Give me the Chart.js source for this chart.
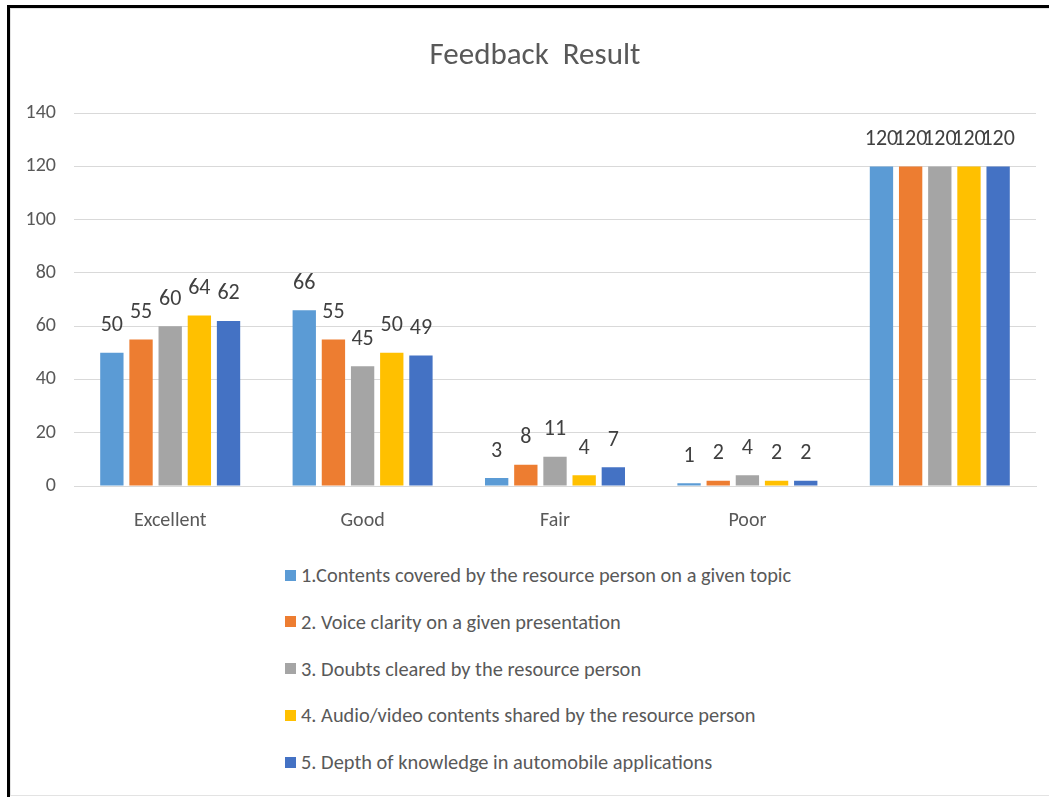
<!DOCTYPE html>
<html>
<head>
<meta charset="utf-8">
<script src="https://cdn.jsdelivr.net/npm/chart.js@4.4.1/dist/chart.umd.min.js"></script>
<style>
  html, body { margin: 0; padding: 0; background: #fff; }
  body { width: 1049px; height: 797px; position: relative; overflow: hidden; }
  /* black frame (left + top) like the screenshot */
  #frame { position: absolute; left: 7px; top: 5px; width: 1042px; height: 792px;
           border-left: 3px solid #000; border-top: 3px solid #000; box-sizing: border-box; }
  /* light grey chart box */
  #box { position: absolute; left: 10px; top: 8px; width: 1045px; height: 788px;
         border-left: 1px solid #e3e3e3; border-top: 1px solid #e3e3e3; border-bottom: 1px solid #e3e3e3;
         box-sizing: border-box; }
  #wrap { position: absolute; left: 10px; top: 8px; width: 1039px; height: 545px; }
  #legend { position: absolute; left: 285px; top: 560px; margin: 0; padding: 0; list-style: none;
            font-family: 'Liberation Sans Narrow', 'Arial Narrow', Carlito, 'Open Sans', sans-serif;
            font-size: 20.4px; color: #595959; }
  #legend li { display: flex; align-items: center; height: 30px; margin-bottom: 16.8px; }
  #legend .sw { width: 11px; height: 11px; margin-right: 5px; display: inline-block; }
</style>
</head>
<body>
<div id="box"></div>
<div id="frame"></div>
<div id="wrap"><canvas id="chartCanvas" width="1039" height="545"></canvas></div>
<ul id="legend"></ul>
<script>
// categorias y series
const categorias = ['Excellent', 'Good', 'Fair', 'Poor', ''];
const serieNombres = [
  '1.Contents covered by the resource person on a given topic',
  '2. Voice clarity on a given presentation',
  '3. Doubts cleared by the resource person',
  '4. Audio/video contents shared by the resource person',
  '5. Depth of knowledge in  automobile applications'
];
const serie1 = [50, 66, 3, 1, 120];
const serie2 = [55, 55, 8, 2, 120];
const serie3 = [60, 45, 11, 4, 120];
const serie4 = [64, 50, 4, 2, 120];
const serie5 = [62, 49, 7, 2, 120];
const yTicks = [0, 20, 40, 60, 80, 100, 120, 140];
const colores = ['#5B9BD5', '#ED7D31', '#A5A5A5', '#FFC000', '#4472C4'];

const FUENTE = "'Liberation Sans Narrow', 'Arial Narrow', Carlito, 'Open Sans', sans-serif";
Chart.defaults.font.family = FUENTE;
Chart.defaults.color = '#595959';

// etiquetas de valor encima de cada barra
const etiquetasPlugin = {
  id: 'etiquetas',
  afterDatasetsDraw(chart) {
    const ctx = chart.ctx;
    ctx.save();
    ctx.font = '22px ' + FUENTE;
    ctx.fillStyle = '#404040';
    ctx.textAlign = 'center';
    ctx.textBaseline = 'middle';
    chart.data.datasets.forEach((ds, i) => {
      const meta = chart.getDatasetMeta(i);
      meta.data.forEach((bar, j) => {
        ctx.fillText(String(ds.data[j]), bar.x, bar.y - 27);
      });
    });
    ctx.restore();
  }
};

const todas = [serie1, serie2, serie3, serie4, serie5];
const datasets = todas.map((d, i) => ({
  label: serieNombres[i],
  data: d,
  backgroundColor: colores[i],
  borderWidth: 0,
  categoryPercentage: 0.758,
  barPercentage: 0.8
}));

const chart = new Chart(document.getElementById('chartCanvas').getContext('2d'), {
  type: 'bar',
  data: { labels: categorias, datasets: datasets },
  options: {
    responsive: false,
    animation: false,
    layout: { padding: { right: 13, left: 24, bottom: 0 } },
    plugins: {
      legend: { display: false },
      tooltip: { enabled: false },
      title: {
        display: true,
        text: 'Feedback  Result',
        color: '#595959',
        font: { size: 31, weight: 'normal' },
        padding: { top: 30, bottom: 38 }
      }
    },
    scales: {
      x: {
        grid: { display: false },
        border: { display: true, color: '#d9d9d9' },
        ticks: { color: '#595959', font: { size: 20 }, padding: 15, maxRotation: 0 },
        afterFit(scale) { scale.height = 67; }
      },
      y: {
        min: 0,
        max: 140,
        afterBuildTicks(scale) { scale.ticks = yTicks.map(v => ({ value: v })); },
        grid: { color: '#d9d9d9', drawTicks: false },
        border: { display: false },
        ticks: { color: '#595959', font: { size: 20 }, padding: 18 },
        afterFit(scale) {
          scale.width = 40;
          // los numeros del eje sobresalen del ancho fijado: no recortarlos
          scale._computeLabelArea = () => undefined;
        }
      }
    }
  },
  plugins: [etiquetasPlugin]
});

// leyenda en lista vertical (una serie por renglon)
const ul = document.getElementById('legend');
chart.data.datasets.forEach(ds => {
  const li = document.createElement('li');
  const sw = document.createElement('span');
  sw.className = 'sw';
  sw.style.background = ds.backgroundColor;
  li.appendChild(sw);
  li.appendChild(document.createTextNode(ds.label));
  ul.appendChild(li);
});
</script>
</body>
</html>
